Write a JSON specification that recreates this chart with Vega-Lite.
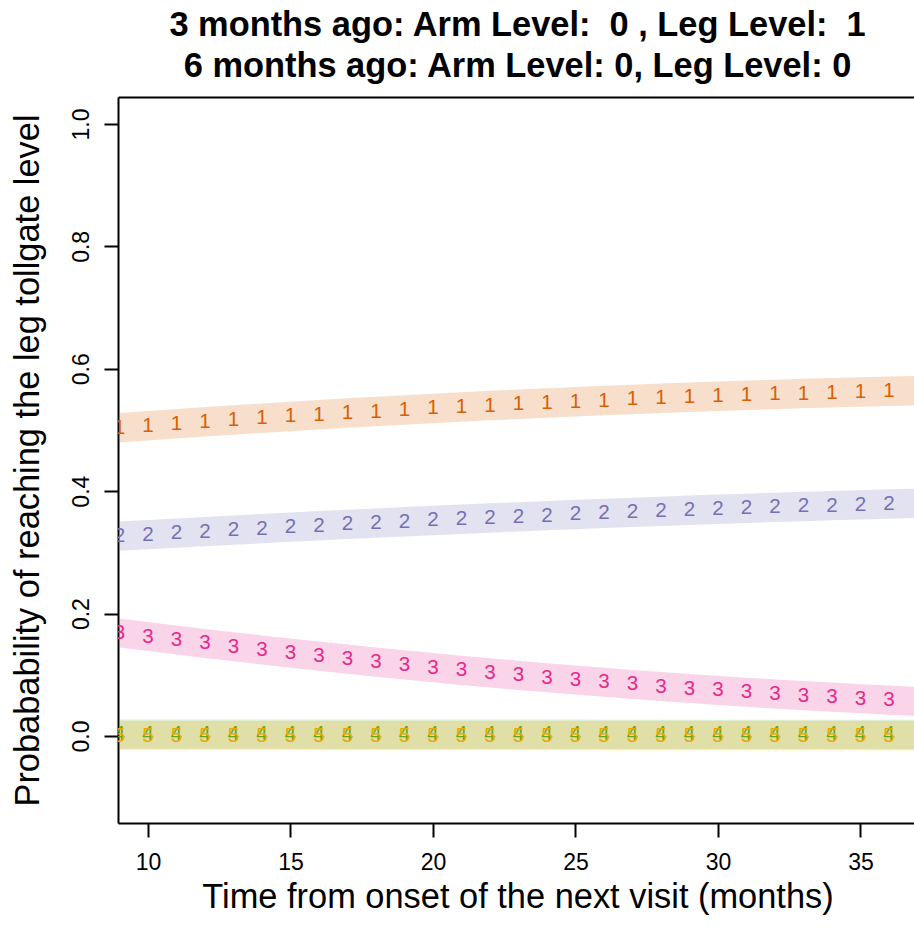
{
  "$schema": "https://vega.github.io/schema/vega-lite/v6.json",
  "autosize": "none",
  "width": 796,
  "height": 726,
  "padding": {"left": 118, "top": 97, "right": 0, "bottom": 105},
  "background": "white",
  "config": {"font": "Liberation Sans", "view": {"stroke": null}},
  "title": {
    "text": ["3 months ago: Arm Level:\u00a0\u00a00 , Leg Level:\u00a0\u00a01\u00a0", "\u00a06 months ago: Arm Level: 0, Leg Level: 0"],
    "font": "Liberation Sans",
    "fontSize": 34.4,
    "fontWeight": "bold",
    "color": "black",
    "anchor": "middle",
    "frame": "group",
    "lineHeight": 41,
    "offset": 13,
    "dx": 1.5
  },
  "data": {
    "values": [
      {"x": 9, "s": "1", "est": 0.5038, "lo": 0.4797, "hi": 0.5279},
      {"x": 10, "s": "1", "est": 0.5071, "lo": 0.4830, "hi": 0.5312},
      {"x": 11, "s": "1", "est": 0.5103, "lo": 0.4862, "hi": 0.5344},
      {"x": 12, "s": "1", "est": 0.5134, "lo": 0.4893, "hi": 0.5375},
      {"x": 13, "s": "1", "est": 0.5164, "lo": 0.4923, "hi": 0.5405},
      {"x": 14, "s": "1", "est": 0.5193, "lo": 0.4952, "hi": 0.5434},
      {"x": 15, "s": "1", "est": 0.5222, "lo": 0.4981, "hi": 0.5463},
      {"x": 16, "s": "1", "est": 0.5249, "lo": 0.5008, "hi": 0.5490},
      {"x": 17, "s": "1", "est": 0.5276, "lo": 0.5035, "hi": 0.5517},
      {"x": 18, "s": "1", "est": 0.5302, "lo": 0.5061, "hi": 0.5543},
      {"x": 19, "s": "1", "est": 0.5328, "lo": 0.5087, "hi": 0.5569},
      {"x": 20, "s": "1", "est": 0.5352, "lo": 0.5111, "hi": 0.5593},
      {"x": 21, "s": "1", "est": 0.5376, "lo": 0.5135, "hi": 0.5617},
      {"x": 22, "s": "1", "est": 0.5399, "lo": 0.5158, "hi": 0.5640},
      {"x": 23, "s": "1", "est": 0.5420, "lo": 0.5179, "hi": 0.5661},
      {"x": 24, "s": "1", "est": 0.5441, "lo": 0.5200, "hi": 0.5682},
      {"x": 25, "s": "1", "est": 0.5462, "lo": 0.5221, "hi": 0.5703},
      {"x": 26, "s": "1", "est": 0.5481, "lo": 0.5240, "hi": 0.5722},
      {"x": 27, "s": "1", "est": 0.5500, "lo": 0.5259, "hi": 0.5741},
      {"x": 28, "s": "1", "est": 0.5518, "lo": 0.5277, "hi": 0.5759},
      {"x": 29, "s": "1", "est": 0.5535, "lo": 0.5294, "hi": 0.5776},
      {"x": 30, "s": "1", "est": 0.5551, "lo": 0.5310, "hi": 0.5792},
      {"x": 31, "s": "1", "est": 0.5567, "lo": 0.5326, "hi": 0.5808},
      {"x": 32, "s": "1", "est": 0.5581, "lo": 0.5340, "hi": 0.5822},
      {"x": 33, "s": "1", "est": 0.5595, "lo": 0.5354, "hi": 0.5836},
      {"x": 34, "s": "1", "est": 0.5608, "lo": 0.5367, "hi": 0.5849},
      {"x": 35, "s": "1", "est": 0.5620, "lo": 0.5379, "hi": 0.5861},
      {"x": 36, "s": "1", "est": 0.5631, "lo": 0.5390, "hi": 0.5872},
      {"x": 37, "s": "1", "est": 0.5642, "lo": 0.5401, "hi": 0.5883},

      {"x": 9, "s": "2", "est": 0.3265, "lo": 0.3025, "hi": 0.3505},
      {"x": 10, "s": "2", "est": 0.3290, "lo": 0.3050, "hi": 0.3530},
      {"x": 11, "s": "2", "est": 0.3315, "lo": 0.3075, "hi": 0.3555},
      {"x": 12, "s": "2", "est": 0.3340, "lo": 0.3100, "hi": 0.3580},
      {"x": 13, "s": "2", "est": 0.3364, "lo": 0.3124, "hi": 0.3604},
      {"x": 14, "s": "2", "est": 0.3388, "lo": 0.3148, "hi": 0.3628},
      {"x": 15, "s": "2", "est": 0.3412, "lo": 0.3172, "hi": 0.3652},
      {"x": 16, "s": "2", "est": 0.3435, "lo": 0.3195, "hi": 0.3675},
      {"x": 17, "s": "2", "est": 0.3457, "lo": 0.3217, "hi": 0.3697},
      {"x": 18, "s": "2", "est": 0.3479, "lo": 0.3239, "hi": 0.3719},
      {"x": 19, "s": "2", "est": 0.3500, "lo": 0.3260, "hi": 0.3740},
      {"x": 20, "s": "2", "est": 0.3521, "lo": 0.3281, "hi": 0.3761},
      {"x": 21, "s": "2", "est": 0.3542, "lo": 0.3302, "hi": 0.3782},
      {"x": 22, "s": "2", "est": 0.3562, "lo": 0.3322, "hi": 0.3802},
      {"x": 23, "s": "2", "est": 0.3581, "lo": 0.3341, "hi": 0.3821},
      {"x": 24, "s": "2", "est": 0.3600, "lo": 0.3360, "hi": 0.3840},
      {"x": 25, "s": "2", "est": 0.3619, "lo": 0.3379, "hi": 0.3859},
      {"x": 26, "s": "2", "est": 0.3637, "lo": 0.3397, "hi": 0.3877},
      {"x": 27, "s": "2", "est": 0.3654, "lo": 0.3414, "hi": 0.3894},
      {"x": 28, "s": "2", "est": 0.3671, "lo": 0.3431, "hi": 0.3911},
      {"x": 29, "s": "2", "est": 0.3688, "lo": 0.3448, "hi": 0.3928},
      {"x": 30, "s": "2", "est": 0.3704, "lo": 0.3464, "hi": 0.3944},
      {"x": 31, "s": "2", "est": 0.3720, "lo": 0.3480, "hi": 0.3960},
      {"x": 32, "s": "2", "est": 0.3735, "lo": 0.3495, "hi": 0.3975},
      {"x": 33, "s": "2", "est": 0.3750, "lo": 0.3510, "hi": 0.3990},
      {"x": 34, "s": "2", "est": 0.3764, "lo": 0.3524, "hi": 0.4004},
      {"x": 35, "s": "2", "est": 0.3777, "lo": 0.3537, "hi": 0.4017},
      {"x": 36, "s": "2", "est": 0.3791, "lo": 0.3551, "hi": 0.4031},
      {"x": 37, "s": "2", "est": 0.3803, "lo": 0.3563, "hi": 0.4043},

      {"x": 9, "s": "3", "est": 0.1683, "lo": 0.1445, "hi": 0.1921},
      {"x": 10, "s": "3", "est": 0.1625, "lo": 0.1387, "hi": 0.1863},
      {"x": 11, "s": "3", "est": 0.1568, "lo": 0.1330, "hi": 0.1806},
      {"x": 12, "s": "3", "est": 0.1512, "lo": 0.1274, "hi": 0.1750},
      {"x": 13, "s": "3", "est": 0.1458, "lo": 0.1220, "hi": 0.1696},
      {"x": 14, "s": "3", "est": 0.1405, "lo": 0.1167, "hi": 0.1643},
      {"x": 15, "s": "3", "est": 0.1354, "lo": 0.1116, "hi": 0.1592},
      {"x": 16, "s": "3", "est": 0.1304, "lo": 0.1066, "hi": 0.1542},
      {"x": 17, "s": "3", "est": 0.1255, "lo": 0.1017, "hi": 0.1493},
      {"x": 18, "s": "3", "est": 0.1207, "lo": 0.0969, "hi": 0.1445},
      {"x": 19, "s": "3", "est": 0.1161, "lo": 0.0923, "hi": 0.1399},
      {"x": 20, "s": "3", "est": 0.1117, "lo": 0.0879, "hi": 0.1355},
      {"x": 21, "s": "3", "est": 0.1073, "lo": 0.0835, "hi": 0.1311},
      {"x": 22, "s": "3", "est": 0.1031, "lo": 0.0793, "hi": 0.1269},
      {"x": 23, "s": "3", "est": 0.0991, "lo": 0.0753, "hi": 0.1229},
      {"x": 24, "s": "3", "est": 0.0951, "lo": 0.0713, "hi": 0.1189},
      {"x": 25, "s": "3", "est": 0.0914, "lo": 0.0676, "hi": 0.1152},
      {"x": 26, "s": "3", "est": 0.0877, "lo": 0.0639, "hi": 0.1115},
      {"x": 27, "s": "3", "est": 0.0842, "lo": 0.0604, "hi": 0.1080},
      {"x": 28, "s": "3", "est": 0.0808, "lo": 0.0570, "hi": 0.1046},
      {"x": 29, "s": "3", "est": 0.0775, "lo": 0.0537, "hi": 0.1013},
      {"x": 30, "s": "3", "est": 0.0744, "lo": 0.0506, "hi": 0.0982},
      {"x": 31, "s": "3", "est": 0.0715, "lo": 0.0477, "hi": 0.0953},
      {"x": 32, "s": "3", "est": 0.0686, "lo": 0.0448, "hi": 0.0924},
      {"x": 33, "s": "3", "est": 0.0659, "lo": 0.0421, "hi": 0.0897},
      {"x": 34, "s": "3", "est": 0.0634, "lo": 0.0396, "hi": 0.0872},
      {"x": 35, "s": "3", "est": 0.0609, "lo": 0.0371, "hi": 0.0847},
      {"x": 36, "s": "3", "est": 0.0586, "lo": 0.0348, "hi": 0.0824},
      {"x": 37, "s": "3", "est": 0.0564, "lo": 0.0326, "hi": 0.0802},

      {"x": 9, "s": "4", "est": 0.0030, "lo": -0.0210, "hi": 0.0270},
      {"x": 10, "s": "4", "est": 0.0030, "lo": -0.0210, "hi": 0.0270},
      {"x": 11, "s": "4", "est": 0.0030, "lo": -0.0210, "hi": 0.0270},
      {"x": 12, "s": "4", "est": 0.0030, "lo": -0.0210, "hi": 0.0270},
      {"x": 13, "s": "4", "est": 0.0030, "lo": -0.0210, "hi": 0.0270},
      {"x": 14, "s": "4", "est": 0.0030, "lo": -0.0210, "hi": 0.0270},
      {"x": 15, "s": "4", "est": 0.0030, "lo": -0.0210, "hi": 0.0270},
      {"x": 16, "s": "4", "est": 0.0029, "lo": -0.0211, "hi": 0.0269},
      {"x": 17, "s": "4", "est": 0.0029, "lo": -0.0211, "hi": 0.0269},
      {"x": 18, "s": "4", "est": 0.0029, "lo": -0.0211, "hi": 0.0269},
      {"x": 19, "s": "4", "est": 0.0029, "lo": -0.0211, "hi": 0.0269},
      {"x": 20, "s": "4", "est": 0.0029, "lo": -0.0211, "hi": 0.0269},
      {"x": 21, "s": "4", "est": 0.0028, "lo": -0.0212, "hi": 0.0268},
      {"x": 22, "s": "4", "est": 0.0028, "lo": -0.0212, "hi": 0.0268},
      {"x": 23, "s": "4", "est": 0.0028, "lo": -0.0212, "hi": 0.0268},
      {"x": 24, "s": "4", "est": 0.0028, "lo": -0.0212, "hi": 0.0268},
      {"x": 25, "s": "4", "est": 0.0028, "lo": -0.0212, "hi": 0.0268},
      {"x": 26, "s": "4", "est": 0.0027, "lo": -0.0213, "hi": 0.0267},
      {"x": 27, "s": "4", "est": 0.0027, "lo": -0.0213, "hi": 0.0267},
      {"x": 28, "s": "4", "est": 0.0027, "lo": -0.0213, "hi": 0.0267},
      {"x": 29, "s": "4", "est": 0.0027, "lo": -0.0213, "hi": 0.0267},
      {"x": 30, "s": "4", "est": 0.0027, "lo": -0.0213, "hi": 0.0267},
      {"x": 31, "s": "4", "est": 0.0026, "lo": -0.0214, "hi": 0.0266},
      {"x": 32, "s": "4", "est": 0.0026, "lo": -0.0214, "hi": 0.0266},
      {"x": 33, "s": "4", "est": 0.0026, "lo": -0.0214, "hi": 0.0266},
      {"x": 34, "s": "4", "est": 0.0026, "lo": -0.0214, "hi": 0.0266},
      {"x": 35, "s": "4", "est": 0.0026, "lo": -0.0214, "hi": 0.0266},
      {"x": 36, "s": "4", "est": 0.0025, "lo": -0.0215, "hi": 0.0265},
      {"x": 37, "s": "4", "est": 0.0025, "lo": -0.0215, "hi": 0.0265},

      {"x": 9, "s": "5", "est": 0.0006, "lo": -0.0234, "hi": 0.0246},
      {"x": 10, "s": "5", "est": 0.0006, "lo": -0.0234, "hi": 0.0246},
      {"x": 11, "s": "5", "est": 0.0006, "lo": -0.0234, "hi": 0.0246},
      {"x": 12, "s": "5", "est": 0.0006, "lo": -0.0234, "hi": 0.0246},
      {"x": 13, "s": "5", "est": 0.0006, "lo": -0.0234, "hi": 0.0246},
      {"x": 14, "s": "5", "est": 0.0006, "lo": -0.0234, "hi": 0.0246},
      {"x": 15, "s": "5", "est": 0.0006, "lo": -0.0234, "hi": 0.0246},
      {"x": 16, "s": "5", "est": 0.0005, "lo": -0.0235, "hi": 0.0245},
      {"x": 17, "s": "5", "est": 0.0005, "lo": -0.0235, "hi": 0.0245},
      {"x": 18, "s": "5", "est": 0.0005, "lo": -0.0235, "hi": 0.0245},
      {"x": 19, "s": "5", "est": 0.0005, "lo": -0.0235, "hi": 0.0245},
      {"x": 20, "s": "5", "est": 0.0005, "lo": -0.0235, "hi": 0.0245},
      {"x": 21, "s": "5", "est": 0.0005, "lo": -0.0235, "hi": 0.0245},
      {"x": 22, "s": "5", "est": 0.0005, "lo": -0.0235, "hi": 0.0245},
      {"x": 23, "s": "5", "est": 0.0005, "lo": -0.0235, "hi": 0.0245},
      {"x": 24, "s": "5", "est": 0.0005, "lo": -0.0235, "hi": 0.0245},
      {"x": 25, "s": "5", "est": 0.0005, "lo": -0.0235, "hi": 0.0245},
      {"x": 26, "s": "5", "est": 0.0004, "lo": -0.0236, "hi": 0.0244},
      {"x": 27, "s": "5", "est": 0.0004, "lo": -0.0236, "hi": 0.0244},
      {"x": 28, "s": "5", "est": 0.0004, "lo": -0.0236, "hi": 0.0244},
      {"x": 29, "s": "5", "est": 0.0004, "lo": -0.0236, "hi": 0.0244},
      {"x": 30, "s": "5", "est": 0.0004, "lo": -0.0236, "hi": 0.0244},
      {"x": 31, "s": "5", "est": 0.0004, "lo": -0.0236, "hi": 0.0244},
      {"x": 32, "s": "5", "est": 0.0004, "lo": -0.0236, "hi": 0.0244},
      {"x": 33, "s": "5", "est": 0.0004, "lo": -0.0236, "hi": 0.0244},
      {"x": 34, "s": "5", "est": 0.0004, "lo": -0.0236, "hi": 0.0244},
      {"x": 35, "s": "5", "est": 0.0004, "lo": -0.0236, "hi": 0.0244},
      {"x": 36, "s": "5", "est": 0.0004, "lo": -0.0236, "hi": 0.0244},
      {"x": 37, "s": "5", "est": 0.0004, "lo": -0.0236, "hi": 0.0244}
    ]
  },
  "encoding": {
    "color": {
      "field": "s",
      "type": "nominal",
      "scale": {"domain": ["1", "2", "3", "4", "5"], "range": ["#D95F02", "#7570B3", "#E7298A", "#66A61E", "#E6AB02"]},
      "legend": null
    }
  },
  "layer": [
    {
      "mark": {"type": "area", "opacity": 0.2, "clip": true},
      "encoding": {
        "x": {
          "field": "x",
          "type": "quantitative",
          "scale": {"domain": [8.947, 36.88], "nice": false, "zero": false},
          "axis": {
            "orient": "bottom",
            "values": [10, 15, 20, 25, 30, 35],
            "grid": false,
            "domainColor": "black",
            "domainWidth": 2,
            "tickColor": "black",
            "tickWidth": 2,
            "tickSize": 14,
            "labelFontSize": 23,
            "labelColor": "black",
            "labelBaseline": "alphabetic",
            "labelPadding": 32,
            "title": "Time from onset of the next visit (months)",
            "titleFontSize": 34.4,
            "titleFontWeight": "normal",
            "titleColor": "black",
            "titleX": 399.5,
            "titleY": 84,
            "titleAlign": "center",
            "titleBaseline": "alphabetic"
          }
        },
        "y": {
          "field": "lo",
          "type": "quantitative",
          "scale": {"domain": [-0.1422, 1.0441], "nice": false, "zero": false},
          "axis": {
            "values": [0, 0.2, 0.4, 0.6, 0.8, 1.0],
            "format": ".1f",
            "grid": false,
            "domainColor": "black",
            "domainWidth": 2,
            "tickColor": "black",
            "tickWidth": 2,
            "tickSize": 14,
            "labelFontSize": 23,
            "labelColor": "black",
            "labelAngle": -90,
            "labelAlign": "center",
            "labelBaseline": "alphabetic",
            "labelPadding": 16,
            "title": "Probabability of reaching the leg tollgate level",
            "titleFontSize": 34.4,
            "titleFontWeight": "normal",
            "titleColor": "black",
            "titleAngle": -90,
            "titleX": -80,
            "titleY": 363,
            "titleAlign": "center",
            "titleBaseline": "alphabetic"
          }
        },
        "y2": {"field": "hi"}
      }
    },
    {
      "transform": [{"filter": "datum.x <= 36"}],
      "mark": {"type": "text", "clip": true, "fontSize": 20.6, "baseline": "middle", "align": "center"},
      "encoding": {
        "x": {
          "field": "x",
          "type": "quantitative",
          "axis": {
            "orient": "top",
            "labels": false,
            "ticks": false,
            "grid": false,
            "title": null,
            "domainColor": "black",
            "domainWidth": 2
          }
        },
        "y": {"field": "est", "type": "quantitative"},
        "text": {"field": "s"}
      }
    }
  ],
  "resolve": {"axis": {"x": "independent"}}
}
